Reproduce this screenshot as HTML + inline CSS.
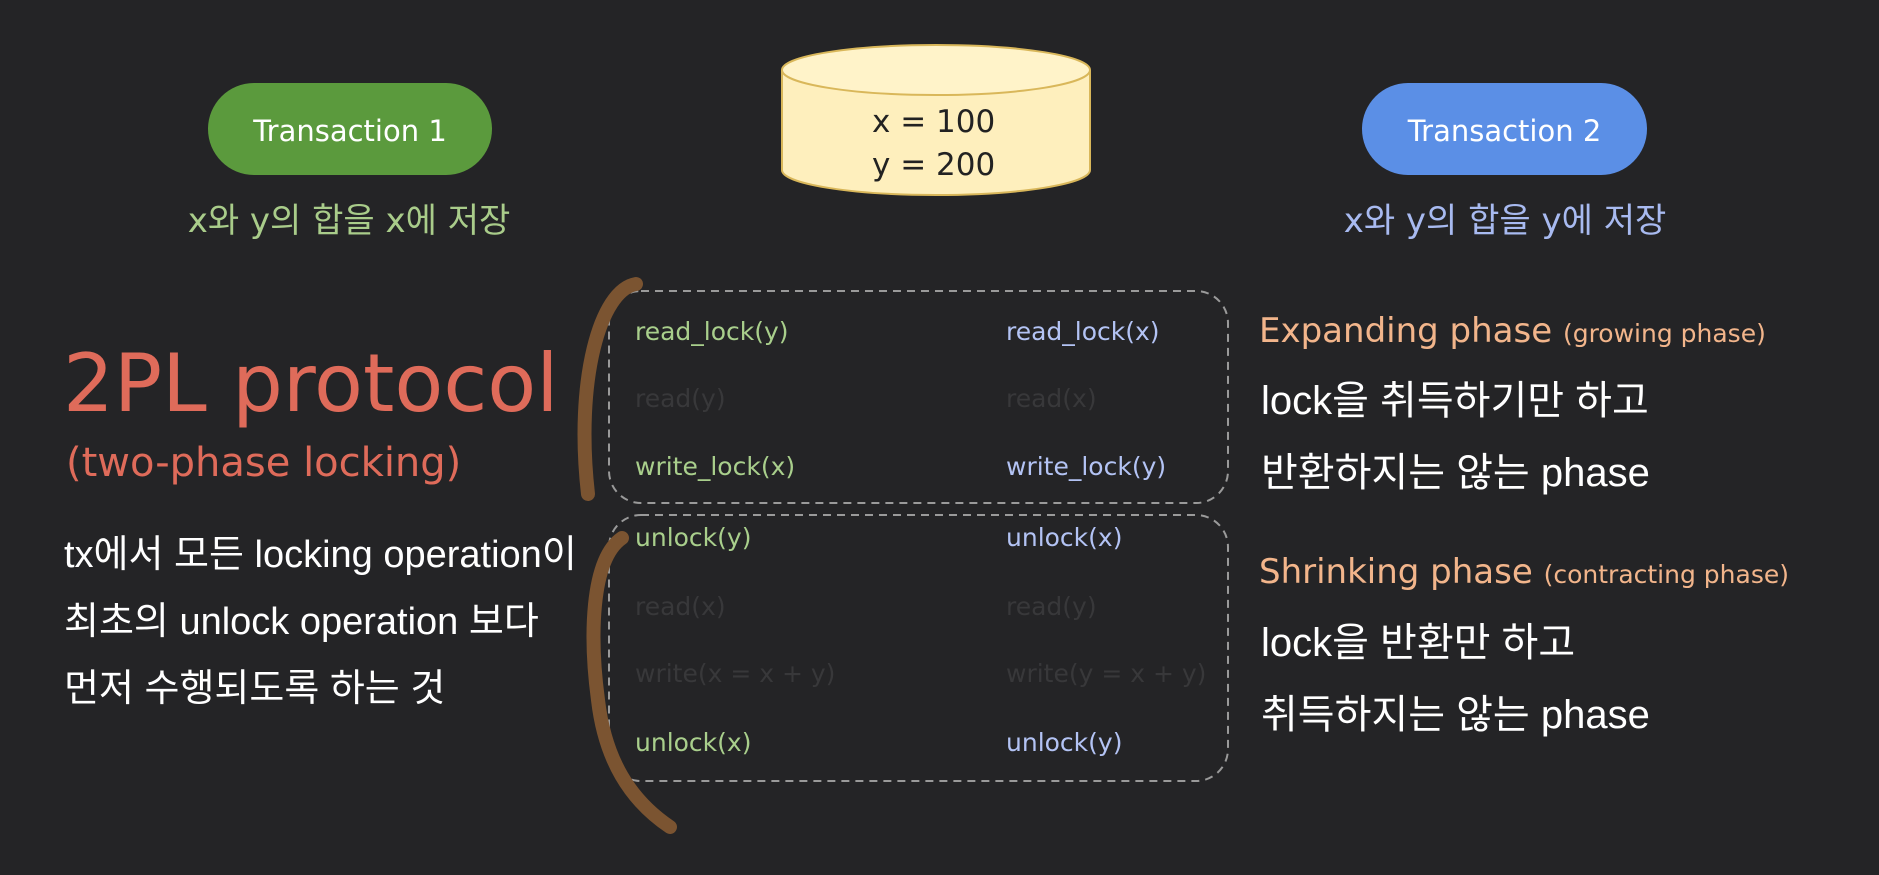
<!DOCTYPE html>
<html><head><meta charset="utf-8"><style>
html,body{margin:0;padding:0;background:#242426;}
body{width:1879px;height:875px;position:relative;overflow:hidden;font-family:"DejaVu Sans","Liberation Sans","Noto Sans CJK KR",sans-serif;}
.t{position:absolute;white-space:nowrap;line-height:1;}
.pill{position:absolute;border-radius:46px;color:#fff;font-size:29px;display:flex;align-items:center;justify-content:center;font-family:"DejaVu Sans",sans-serif;}
.g{color:#a9cf8c}.b{color:#b3c3f4}.f{color:#38383a}
.code{font-size:25px;font-family:"DejaVu Sans",sans-serif;}
.w{color:#fff;font-family:"Liberation Sans","Noto Sans CJK KR",sans-serif;font-size:40px;}
.o{color:#f2b58b;font-family:"DejaVu Sans",sans-serif;font-size:34px;}
.o span{font-size:25px;}
</style></head><body>
<div class="pill" style="left:208px;top:83px;width:284px;height:92px;background:#5b9a3d;padding-top:4px;box-sizing:border-box;">Transaction 1</div>
<div class="pill" style="left:1362px;top:83px;width:285px;height:92px;background:#5b8fe6;padding-top:4px;box-sizing:border-box;">Transaction 2</div>
<div class="t" style="left:149px;top:204px;width:400px;text-align:center;font-size:34px;color:#a9cc8a;font-family:'DejaVu Sans','Noto Sans CJK KR',sans-serif;">x와 y의 합을 x에 저장</div>
<div class="t" style="left:1305px;top:204px;width:400px;text-align:center;font-size:34px;color:#a8baf0;font-family:'DejaVu Sans','Noto Sans CJK KR',sans-serif;">x와 y의 합을 y에 저장</div>
<svg width="1879" height="875" style="position:absolute;left:0;top:0">
<path d="M782 70 L782 170 A154 25 0 0 0 1090 170 L1090 70" fill="#feefbd" stroke="#d9b75a" stroke-width="2"/>
<ellipse cx="936" cy="70" rx="154" ry="25" fill="#fff3c9" stroke="#d9b75a" stroke-width="2"/>
<rect x="609" y="291" width="619" height="212" rx="32" fill="none" stroke="#9a9a9a" stroke-width="2" stroke-dasharray="8 6"/>
<rect x="609" y="515" width="619" height="266" rx="32" fill="none" stroke="#9a9a9a" stroke-width="2" stroke-dasharray="8 6"/>
<path d="M636 284 C600 290 575 380 588 494" fill="none" stroke="#7b5431" stroke-width="14" stroke-linecap="round"/>
<path d="M622 538 C590 560 590 640 598 700 C605 760 630 800 670 827" fill="none" stroke="#7b5431" stroke-width="14" stroke-linecap="round"/>
</svg>
<div class="t" style="left:872px;top:107px;font-size:31px;color:#222;font-family:'DejaVu Sans',sans-serif;">x = 100</div>
<div class="t" style="left:872px;top:150px;font-size:31px;color:#222;font-family:'DejaVu Sans',sans-serif;">y = 200</div>
<div class="t" style="left:63px;top:344px;font-size:80px;color:#df6b5a;font-family:'DejaVu Sans',sans-serif;">2PL protocol</div>
<div class="t" style="left:66px;top:443px;font-size:40px;color:#df6b5a;font-family:'DejaVu Sans',sans-serif;">(two-phase locking)</div>
<div class="t w" style="left:64px;top:536px;font-size:38px;">tx에서 모든 locking operation이</div>
<div class="t w" style="left:64px;top:603px;font-size:38px;">최초의 unlock operation 보다</div>
<div class="t w" style="left:64px;top:670px;font-size:38px;">먼저 수행되도록 하는 것</div>
<div class="t code g" style="left:635px;top:319px;">read_lock(y)</div>
<div class="t code b" style="left:1006px;top:319px;">read_lock(x)</div>
<div class="t code f" style="left:635px;top:386px;">read(y)</div>
<div class="t code f" style="left:1006px;top:386px;">read(x)</div>
<div class="t code g" style="left:635px;top:454px;">write_lock(x)</div>
<div class="t code b" style="left:1006px;top:454px;">write_lock(y)</div>
<div class="t code g" style="left:635px;top:525px;">unlock(y)</div>
<div class="t code b" style="left:1006px;top:525px;">unlock(x)</div>
<div class="t code f" style="left:635px;top:594px;">read(x)</div>
<div class="t code f" style="left:1006px;top:594px;">read(y)</div>
<div class="t code f" style="left:635px;top:661px;">write(x = x + y)</div>
<div class="t code f" style="left:1006px;top:661px;">write(y = x + y)</div>
<div class="t code g" style="left:635px;top:730px;">unlock(x)</div>
<div class="t code b" style="left:1006px;top:730px;">unlock(y)</div>
<div class="t o" style="left:1259px;top:314px;">Expanding phase <span>(growing phase)</span></div>
<div class="t w" style="left:1261px;top:381px;">lock을 취득하기만 하고</div>
<div class="t w" style="left:1261px;top:453px;">반환하지는 않는 phase</div>
<div class="t o" style="left:1259px;top:555px;">Shrinking phase <span>(contracting phase)</span></div>
<div class="t w" style="left:1261px;top:623px;">lock을 반환만 하고</div>
<div class="t w" style="left:1261px;top:695px;">취득하지는 않는 phase</div>
</body></html>
